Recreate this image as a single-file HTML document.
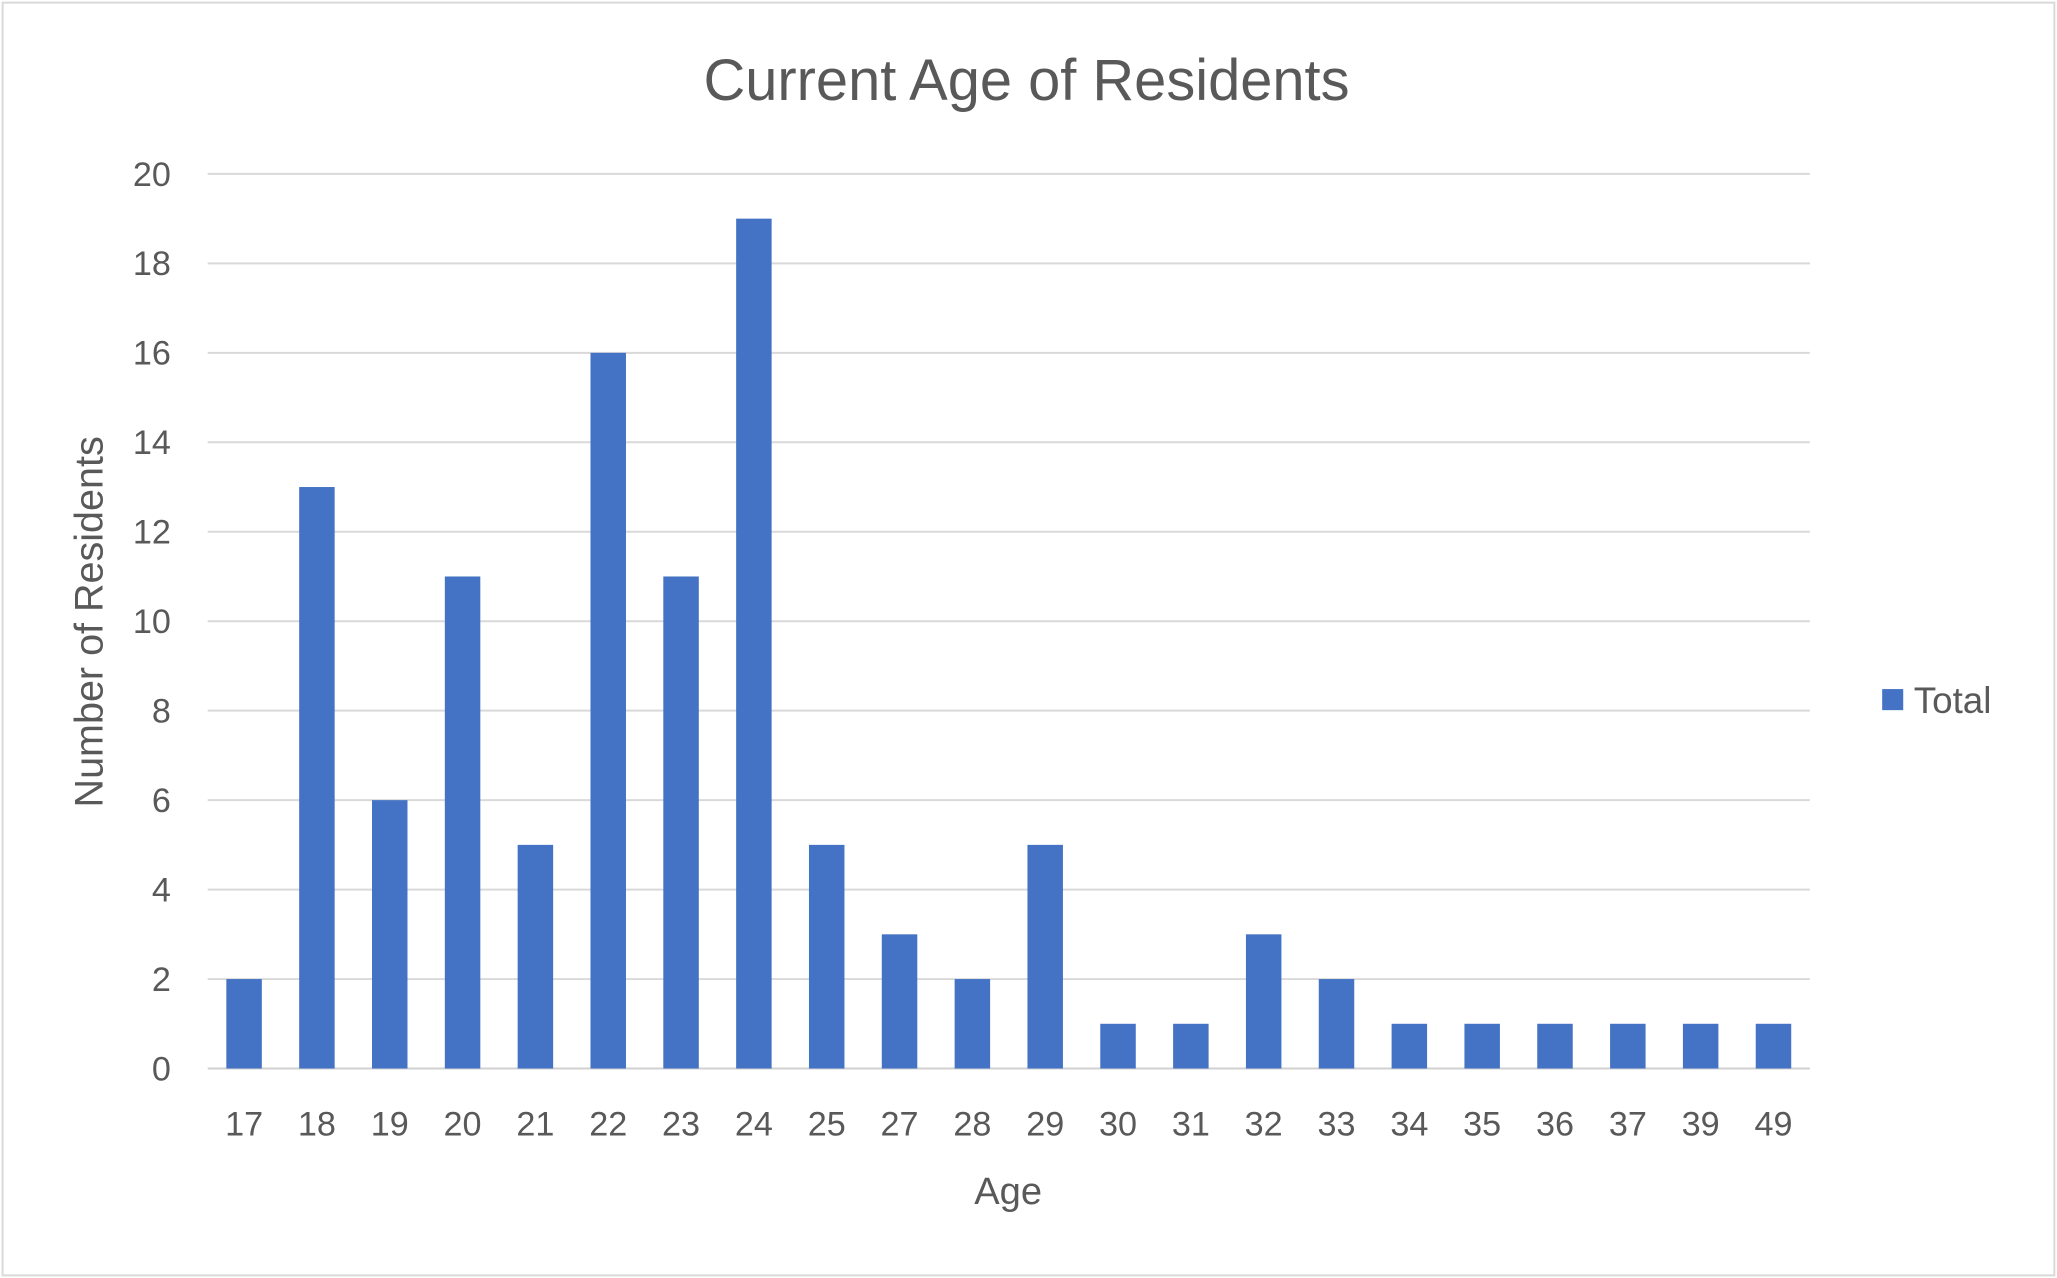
<!DOCTYPE html>
<html><head><meta charset="utf-8"><style>
html,body{margin:0;padding:0;background:#fff;}
svg{display:block;font-family:"Liberation Sans",sans-serif;}
</style></head><body>
<svg id="chart" width="2057" height="1278" viewBox="0 0 1565 970" preserveAspectRatio="none">
<rect x="2" y="2" width="1561" height="966" fill="#fff" stroke="#d9d9d9" stroke-width="1.5"/>
<text x="781" y="76" font-size="44" fill="#595959" text-anchor="middle">Current Age of Residents</text>
<g id="grid"></g><g id="bars"></g><g id="xlabels"></g><g id="ylabels"></g>
<text x="767" y="914" font-size="29" fill="#595959" text-anchor="middle">Age</text>
<text transform="translate(78,472) rotate(-90)" font-size="30" fill="#595959" text-anchor="middle">Number of Residents</text>
<g>
<rect x="1432" y="523" width="16" height="16" fill="#4472c4"/>
<text x="1456" y="541" font-size="28" fill="#595959">Total</text>
</g>
</svg>
<script>
const categories=["17","18","19","20","21","22","23","24","25","27","28","29","30","31","32","33","34","35","36","37","39","49"];
const values=[2,13,6,11,5,16,11,19,5,3,2,5,1,1,3,2,1,1,1,1,1,1];
const yTicks=[0,2,4,6,8,10,12,14,16,18,20];
const NS="http://www.w3.org/2000/svg";
const L=158,R=1377,T=132,B=811,YMAX=20;
const y=v=>B-(v/YMAX)*(B-T);
const slot=(R-L)/categories.length;
const xc=i=>L+slot*(i+0.5);
const bw=27;
function mk(tag,attrs,parent){const e=document.createElementNS(NS,tag);for(const k in attrs)e.setAttribute(k,attrs[k]);document.getElementById(parent).appendChild(e);return e;}
yTicks.forEach(t=>{
  const g=mk('line',{x1:L,x2:R,y1:y(t),y2:y(t),stroke:t===0?'#d0d0d0':'#d9d9d9','stroke-width':1.5},'grid');
  
  
  const tx=mk('text',{x:130,y:y(t)+9,'font-size':26,fill:'#595959','text-anchor':'end'},'ylabels');
  tx.textContent=t;
  
  
});
categories.forEach((c,i)=>{
  const b=mk('rect',{x:xc(i)-bw/2,y:y(values[i]),width:bw,height:B-y(values[i]),fill:'#4472c4'},'bars');
  
  
  const tx=mk('text',{x:xc(i),y:862,'font-size':26,fill:'#595959','text-anchor':'middle'},'xlabels');
  tx.textContent=c;
  
  
});
</script>
</body></html>
